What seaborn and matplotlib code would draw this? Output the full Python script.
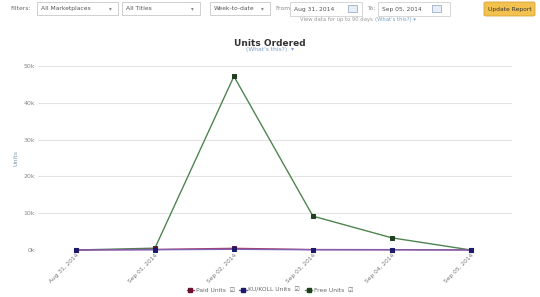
import matplotlib
matplotlib.use("Agg")
import matplotlib.pyplot as plt
from matplotlib.patches import FancyBboxPatch, Rectangle
from matplotlib.lines import Line2D
import seaborn as sns
import pandas as pd

dates = ["Aug 31, 2014", "Sep 01, 2014", "Sep 02, 2014", "Sep 03, 2014", "Sep 04, 2014", "Sep 05, 2014"]
paid_units = [20, 150, 450, 120, 90, 30]
ku_units = [10, 80, 200, 70, 50, 15]
free_units = [0, 500, 47200, 9200, 3300, 0]
series_names = ["Paid Units", "KU/KOLL Units", "Free Units"]
y_ticks = [0, 10000, 20000, 30000, 40000, 50000]
y_tick_labels = ["0k", "10k", "20k", "30k", "40k", "50k"]

sns.set_theme(style="white")
plt.rcParams["font.family"] = ["DejaVu Sans"]

W, H = 540, 297
fig = plt.figure(figsize=(W / 100, H / 100), dpi=100)
fig.patch.set_facecolor("white")

def px(x, y):
    return x / W, 1 - y / H

# Axes: x from 38 to 512 px, y from 66 (50k) to 250 (0)
ax = fig.add_axes([38 / W, 47 / H, (512 - 38) / W, (250 - 66) / H])
idx = list(range(len(dates)))
df = pd.DataFrame({
    "x": idx * 3,
    "units": free_units + ku_units + paid_units,
    "series": ["Free Units"] * 6 + ["KU/KOLL Units"] * 6 + ["Paid Units"] * 6,
})
line_colors = {"Free Units": "#4f8550", "KU/KOLL Units": "#7b62b8", "Paid Units": "#b03a5a"}
marker_colors = {"Free Units": "#1f3f1f", "KU/KOLL Units": "#1c1a6a", "Paid Units": "#6a1030"}
for name in ["Free Units", "Paid Units", "KU/KOLL Units"]:
    sub = df[df["series"] == name]
    sns.lineplot(data=sub, x="x", y="units", ax=ax, color=line_colors[name],
                 linewidth=1.0, marker="s", markersize=2.2,
                 markerfacecolor=marker_colors[name], markeredgecolor=marker_colors[name],
                 legend=False, clip_on=False, zorder=3)

ax.set_xlim(-0.48, 5.52)
ax.set_ylim(0, 50000)
ax.set_yticks(y_ticks)
ax.set_yticklabels(y_tick_labels, fontsize=4.5, color="#888888")
ax.set_xticks(idx)
ax.set_xticklabels(dates, rotation=45, ha="right", rotation_mode="anchor", fontsize=4.2, color="#777777")
ax.tick_params(axis="both", length=0, pad=2)
ax.grid(axis="y", color="#e4e4e4", linewidth=0.8)
ax.grid(axis="x", visible=False)
for s in ax.spines.values():
    s.set_visible(False)
ax.set_xlabel("")
ax.set_ylabel("Units", fontsize=4.5, color="#7a9ab0", labelpad=4)

# Title
fig.text(*px(270, 43), "Units Ordered", ha="center", va="center", fontsize=6.5, fontweight="bold", color="#333333")
fig.text(*px(270, 50), "(What's this?)  \u25be", ha="center", va="center", fontsize=4.3, color="#7aa0c8")

# Legend
handles = [Line2D([0], [0], color=line_colors[n], marker="s", markersize=2.2,
                  markerfacecolor=marker_colors[n], markeredgecolor=marker_colors[n], linewidth=1)
           for n in series_names]
leg = fig.legend(handles, [n + "  \u2611" for n in series_names], loc="center",
                 bbox_to_anchor=px(270, 290), ncol=3, fontsize=4.3, frameon=False,
                 handlelength=1.2, handletextpad=0.3, columnspacing=0.8)
for t in leg.get_texts():
    t.set_color("#666666")

# Top filter UI
fig.text(*px(10, 8), "Filters:", ha="left", va="center", fontsize=4.3, color="#666666")

def box(x0, x1, y0, y1, text, arrow=True, fc="white", ec="#c8c8c8", tc="#555555"):
    r = Rectangle(px(x0, y1), (x1 - x0) / W, (y1 - y0) / H, transform=fig.transFigure,
                  facecolor=fc, edgecolor=ec, linewidth=0.6)
    fig.add_artist(r)
    fig.text(*px(x0 + 4, (y0 + y1) / 2), text, ha="left", va="center", fontsize=4.3, color=tc)
    if arrow:
        fig.text(*px(x1 - 8, (y0 + y1) / 2), "\u25be", ha="center", va="center", fontsize=4, color="#888888")

box(37, 118, 2, 15, "All Marketplaces")
box(122, 200, 2, 15, "All Titles")
box(210, 270, 2, 15, "Week-to-date")
fig.text(*px(275, 8.5), "From", ha="left", va="center", fontsize=4.3, color="#888888")
box(290, 362, 2, 16, "Aug 31, 2014", arrow=False, ec="#d0d0d0")
fig.add_artist(Rectangle(px(348, 12), 9 / W, 7 / H, transform=fig.transFigure,
                         facecolor="#e8eef6", edgecolor="#8aa0c0", linewidth=0.5))
fig.text(*px(367, 8.5), "To:", ha="left", va="center", fontsize=4.3, color="#888888")
box(378, 450, 2, 16, "Sep 05, 2014", arrow=False, ec="#d0d0d0")
fig.add_artist(Rectangle(px(432, 12), 9 / W, 7 / H, transform=fig.transFigure,
                         facecolor="#e8eef6", edgecolor="#8aa0c0", linewidth=0.5))
fig.text(*px(300, 20), "View data for up to 90 days", ha="left", va="center", fontsize=3.8, color="#999999")
fig.text(*px(375, 20), "(What's this?) \u25be", ha="left", va="center", fontsize=3.8, color="#7aa0c8")
btn = FancyBboxPatch(px(484, 16), (535 - 484) / W, 14 / H, boxstyle="round,pad=0,rounding_size=0.004",
                     transform=fig.transFigure, facecolor="#f2c14e", edgecolor="#d9a53a", linewidth=0.6)
fig.add_artist(btn)
fig.text(*px(509.5, 9), "Update Report", ha="center", va="center", fontsize=4.3, color="#333333")

fig.savefig("out.png", dpi=100, facecolor="white")
